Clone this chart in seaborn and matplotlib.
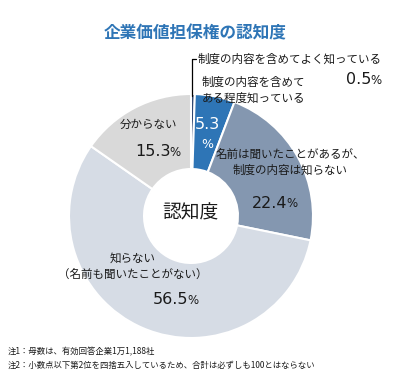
import seaborn as sns
import matplotlib.pyplot as plt
from matplotlib.lines import Line2D

# data (clockwise from 12 o'clock)
categories = ["制度の内容を含めてよく知っている", "制度の内容を含めて\nある程度知っている",
              "名前は聞いたことがあるが、\n制度の内容は知らない", "知らない\n（名前も聞いたことがない）",
              "分からない"]
shares = [0.5, 5.3, 22.4, 56.5, 15.3]
colors = ["#1f3864", "#2e75b6", "#8497b0", "#d6dce5", "#d9d9d9"]
notes = ["注1：母数は、有効回答企業1万1,188社",
         "注2：小数点以下第2位を四捨五入しているため、合計は必ずしも100とはならない"]

sns.set_theme(style="white")
plt.rcParams["font.family"] = ["Noto Sans CJK JP", "DejaVu Sans"]

W, H = 417, 376
fig = plt.figure(figsize=(W / 100, H / 100), dpi=100)
renderer = fig.canvas.get_renderer()

def fx(x):
    return x / W

def fy(y):
    return 1 - y / H

# donut
cx, cy, r = 191, 216, 122
ax = fig.add_axes([fx(cx - r), fy(cy + r), 2 * r / W, 2 * r / H])
ax.pie(shares, colors=colors, startangle=90, counterclock=False,
       wedgeprops=dict(width=0.615, edgecolor="white", linewidth=1.5))
ax.set_xlim(-1, 1)
ax.set_ylim(-1, 1)
ax.axis("off")

# title
fig.text(fx(195), fy(33), "企業価値担保権の認知度", ha="center", va="center",
         fontsize=12, fontweight="bold", color="#2e75b6")

# leader line for 0.5%
fig.add_artist(Line2D([fx(192), fx(192), fx(196)], [fy(96), fy(59), fy(59)],
                      color="black", linewidth=0.9))

txt = dict(fontsize=8.3, color="#1a1a1a", linespacing=1.3)


def pct_label(x, y, value, color="#1a1a1a"):
    # digits in a larger face, smaller % sign right after them
    t = fig.text(fx(x), fy(y), f"{value}", ha="left", va="center",
                 fontsize=11.5, color=color, family="DejaVu Sans")
    bb = t.get_window_extent(renderer)
    fig.text(fx(bb.x1 - 1), fy(y + 1), "%", ha="left", va="center",
             fontsize=8.5, color=color, family="DejaVu Sans")


fig.text(fx(198), fy(59), categories[0], ha="left", va="center", **txt)
pct_label(346, 80, shares[0])
fig.text(fx(202), fy(90.5), categories[1], ha="left", va="center", **txt)

fig.text(fx(207), fy(125), f"{shares[1]}", ha="center", va="center",
         fontsize=11.5, color="white", family="DejaVu Sans")
fig.text(fx(207), fy(144), "%", ha="center", va="center",
         fontsize=9, color="white", family="DejaVu Sans")

fig.text(fx(290), fy(162.5), categories[2], ha="center", va="center", **txt)
pct_label(252, 203, shares[2])
fig.text(fx(133), fy(266.5), categories[3], ha="center", va="center", **txt)
pct_label(153, 300, shares[3])
fig.text(fx(148), fy(124), categories[4], ha="center", va="center", **txt)
pct_label(135, 152, shares[4])

fig.text(fx(190), fy(213), "認知度", ha="center", va="center", fontsize=13.5, color="#1a1a1a")

fig.text(fx(8), fy(352), notes[0], ha="left", va="center", fontsize=6, color="#1a1a1a")
fig.text(fx(8), fy(365), notes[1], ha="left", va="center", fontsize=6, color="#1a1a1a")

fig.savefig("out.png", dpi=100, facecolor="white")
